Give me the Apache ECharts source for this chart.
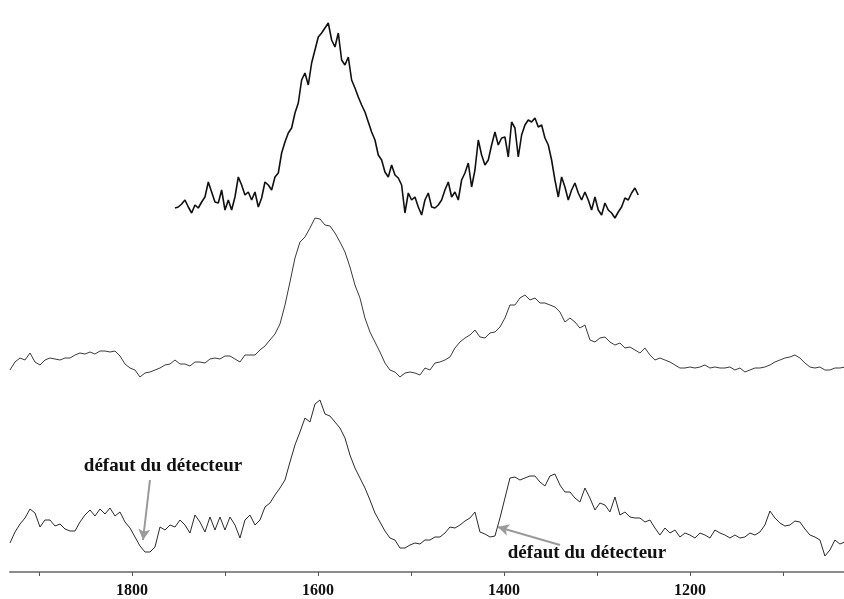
<!DOCTYPE html>
<html>
<head>
<meta charset="utf-8">
<script src="https://cdn.jsdelivr.net/npm/echarts@6/dist/echarts.min.js"></script>
<style>
  html, body { margin: 0; padding: 0; background: #fff; }
  #chart { width: 844px; height: 599px; }
</style>
</head>
<body>
<div id="chart"></div>
<script>
// grilles d'echantillonnage (nombre d'onde, cm-1)
var topStart = 1753.8, topStep = 3.584;
var lowStart = 1931.2, lowStep = 5.376;

// spectre du haut (bruité)
var topValues = [
  364,365,368,372,365,359,367,364,370,375,
  390,380,370,369,382,362,372,362,375,395,
  387,377,380,372,380,365,374,390,387,382,
  395,399,419,430,439,444,459,469,492,499,
  487,509,522,535,539,544,549,532,525,539,
  512,507,515,492,484,475,467,460,450,440,
  432,417,412,400,395,407,397,394,387,359,
  379,372,375,365,357,372,379,365,364,367,
  372,382,390,375,380,372,392,399,409,385,
  402,432,417,407,412,427,440,427,434,435,
  415,450,444,415,437,447,452,450,454,445,
  447,434,427,412,392,375,395,385,372,382,
  389,379,372,380,372,362,375,362,357,369,
  362,359,354,360,365,374,372,379,384,377
];

// spectre du milieu
var midValues = [
  202,210,214,212,219,210,207,212,214,213,212,214,
  214,217,219,218,220,218,221,221,220,221,216,208,
  204,202,195,199,200,202,204,207,208,212,208,208,
  206,210,210,209,213,214,213,216,216,213,210,217,
  217,217,222,226,232,238,248,267,290,314,330,335,
  344,354,353,347,346,339,330,320,305,287,274,254,
  240,230,220,209,202,200,195,199,200,199,197,204,
  202,209,210,212,215,224,230,234,237,242,235,234,
  239,240,245,254,267,267,274,277,272,274,269,269,
  267,265,260,250,254,250,244,247,232,230,234,235,
  230,227,229,224,225,222,219,224,217,212,214,212,
  210,207,204,204,205,204,205,207,204,205,204,204,
  205,202,204,200,202,204,204,205,207,210,212,214,
  215,217,214,209,205,204,205,202,202,204,204,205
];

// spectre du bas (avec défauts du détecteur)
var botValues = [
  29,40,48,54,63,59,45,52,52,46,48,43,
  41,41,50,57,62,56,63,58,64,56,60,50,
  44,35,26,20,20,25,45,42,47,45,52,47,
  39,57,50,40,55,42,55,42,55,47,34,52,
  57,47,52,65,69,77,84,92,110,127,140,154,
  150,168,172,158,156,150,144,134,117,104,94,84,
  72,59,50,41,34,32,24,24,27,29,28,32,
  32,35,35,39,45,44,47,51,54,60,40,38,
  35,36,54,74,94,95,92,94,96,96,90,86,
  96,98,87,80,80,74,70,84,74,62,69,67,
  60,75,57,60,55,54,54,50,52,44,37,44,
  39,42,35,39,37,34,39,37,34,42,39,37,
  34,37,34,35,39,37,40,47,61,54,49,46,
  47,51,50,43,37,35,32,16,22,32,28,30
];

var tickValues = [1900, 1800, 1700, 1600, 1500, 1400, 1300, 1200, 1100];
var labelValues = [1800, 1600, 1400, 1200];

// annotations : [x texte, y texte, x départ flèche, y départ, x pointe, y pointe]
var noteText = 'défaut du détecteur';
var note1 = [1766.7, 106, 1780.7, 92, 1788.2, 32];
var note2 = [1310.8, 19, 1339.8, 27, 1406.5, 45];

function pairs(start, step, vals) {
  var out = [];
  for (var i = 0; i < vals.length; i++) {
    out.push([start - i * step, vals[i]]);
  }
  return out;
}

var myChart = echarts.init(document.getElementById('chart'));
var serif = "'Liberation Serif', 'DejaVu Serif', serif";
var option = {
  animation: false,
  backgroundColor: '#fff',
  grid: { left: 10, right: 0, top: 0, bottom: 27 },
  xAxis: {
    type: 'value',
    inverse: true,
    min: 1034.4,
    max: 1931.2,
    axisLine: { show: true, onZero: false, lineStyle: { color: '#8c8c8c', width: 2 } },
    axisTick: { show: true, length: 4, customValues: tickValues, lineStyle: { color: '#555', width: 1 } },
    axisLabel: {
      customValues: labelValues,
      formatter: function (v) { return String(v); },
      margin: 11,
      color: '#111',
      fontFamily: serif,
      fontWeight: 'bold',
      fontSize: 16
    },
    splitLine: { show: false }
  },
  yAxis: {
    type: 'value',
    min: 0,
    max: 572,
    show: false
  },
  series: [
    {
      name: 'haut',
      type: 'line',
      data: pairs(topStart, topStep, topValues),
      showSymbol: false,
      lineStyle: { color: '#111', width: 1.6 }
    },
    {
      name: 'milieu',
      type: 'line',
      data: pairs(lowStart, lowStep, midValues),
      showSymbol: false,
      lineStyle: { color: '#3a3a3a', width: 1 }
    },
    {
      name: 'bas',
      type: 'line',
      data: pairs(lowStart, lowStep, botValues),
      showSymbol: false,
      lineStyle: { color: '#2a2a2a', width: 1 },
      markLine: {
        silent: true,
        symbol: ['none', 'arrow'],
        symbolSize: [9, 11],
        label: { show: false },
        lineStyle: { color: '#9a9a9a', width: 2, type: 'solid' },
        data: [
          [{ coord: [note1[2], note1[3]] }, { coord: [note1[4], note1[5]] }],
          [{ coord: [note2[2], note2[3]] }, { coord: [note2[4], note2[5]] }]
        ]
      },
      markPoint: {
        silent: true,
        symbol: 'circle',
        symbolSize: 0,
        label: {
          show: true,
          position: 'inside',
          formatter: noteText,
          color: '#111',
          fontFamily: serif,
          fontWeight: 'bold',
          fontSize: 19
        },
        data: [
          { coord: [note1[0], note1[1]] },
          { coord: [note2[0], note2[1]] }
        ]
      }
    }
  ]
};
myChart.setOption(option);
</script>
</body>
</html>
